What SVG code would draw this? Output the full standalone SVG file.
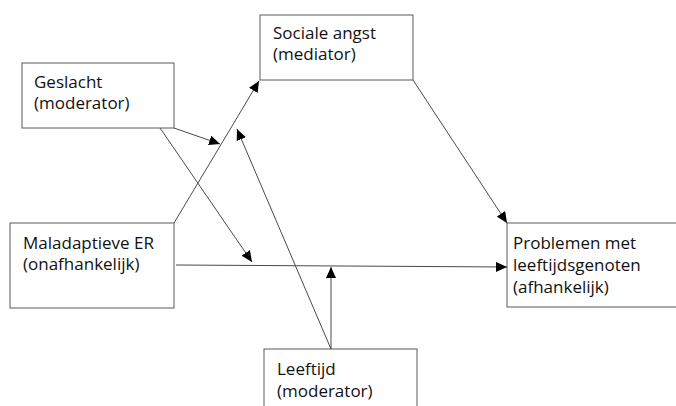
<svg xmlns="http://www.w3.org/2000/svg" width="676" height="406" viewBox="0 0 676 406">
  <style>
    .box { fill: #ffffff; stroke: #5a5a5a; stroke-width: 1; }
    .label { font-family: "Open Sans", "Liberation Sans", sans-serif; font-size: 17px; fill: #111111; }
    .link { fill: none; stroke: #4a4a4a; stroke-width: 1; marker-end: url(#arrow); }
  </style>
  <defs>
    <marker id="arrow" markerUnits="userSpaceOnUse" markerWidth="12" markerHeight="10" refX="11" refY="5" orient="auto">
      <path d="M0,0 L11,5 L0,10 Z" fill="#000000"/>
    </marker>
  </defs>

  <rect width="676" height="406" fill="#ffffff"/>

  <g id="geslacht">
    <rect class="box" x="22" y="63" width="152" height="65"/>
    <text class="label" x="34" y="88">Geslacht</text>
    <text class="label" x="34" y="109">(moderator)</text>
  </g>

  <g id="sociale-angst">
    <rect class="box" x="260" y="15" width="153" height="65"/>
    <text class="label" x="273" y="39">Sociale angst</text>
    <text class="label" x="273" y="60">(mediator)</text>
  </g>

  <g id="maladaptieve-er">
    <rect class="box" x="10" y="223" width="164" height="85"/>
    <text class="label" x="23" y="249">Maladaptieve ER</text>
    <text class="label" x="23" y="270">(onafhankelijk)</text>
  </g>

  <g id="leeftijd">
    <rect class="box" x="264" y="349" width="153" height="80"/>
    <text class="label" x="277" y="375">Leeftijd</text>
    <text class="label" x="277" y="397">(moderator)</text>
  </g>

  <g id="problemen">
    <rect class="box" x="507" y="223" width="200" height="84"/>
    <text class="label" x="513" y="249">Problemen met</text>
    <text class="label" x="513" y="271">leeftijdsgenoten</text>
    <text class="label" x="513" y="293">(afhankelijk)</text>
  </g>

  <g id="connectors">
    <line class="link" x1="174" y1="223" x2="259" y2="81"/>
    <line class="link" x1="174" y1="128" x2="220" y2="144"/>
    <line class="link" x1="160" y1="128" x2="252" y2="262"/>
    <line class="link" x1="331" y1="349" x2="237" y2="129"/>
    <line class="link" x1="331" y1="349" x2="331" y2="267"/>
    <line class="link" x1="176" y1="265" x2="507" y2="267"/>
    <line class="link" x1="413" y1="80" x2="507" y2="223"/>
  </g>
</svg>
